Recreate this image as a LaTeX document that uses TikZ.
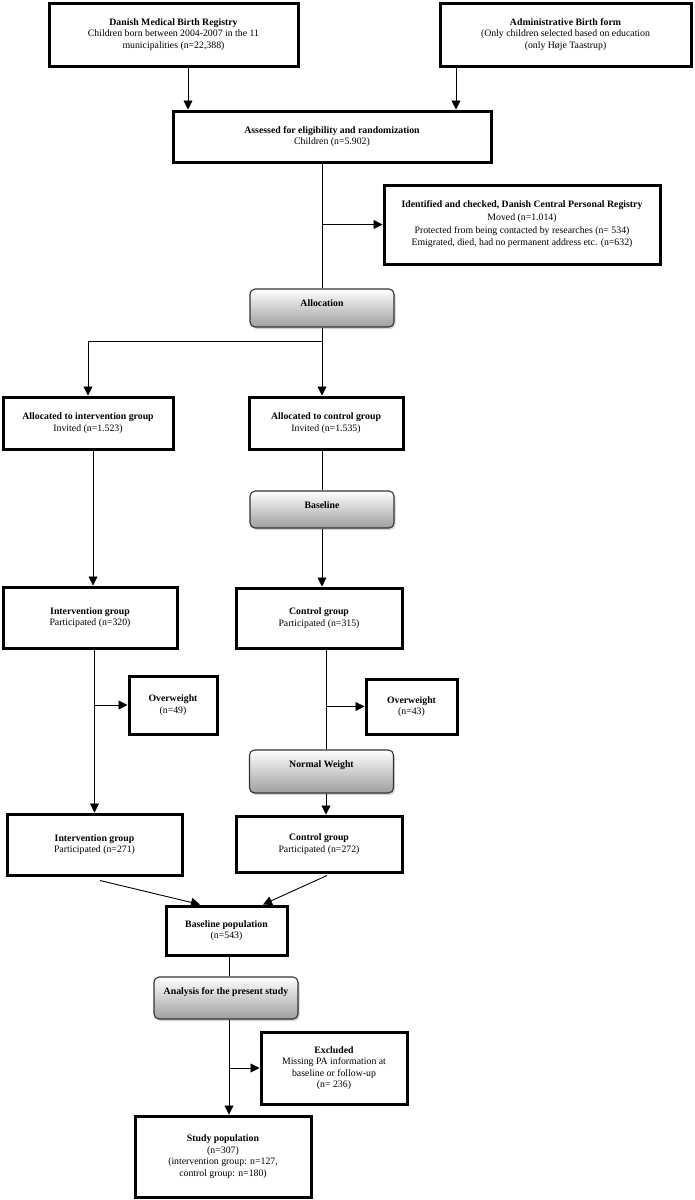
\documentclass[tikz,border=0pt]{standalone}
\usepackage{fontspec}
\setmainfont{Liberation Serif}
\usetikzlibrary{arrows.meta, shadows}

\begin{document}
\begin{tikzpicture}[x=1pt, y=-1pt, every node/.style={font=\fontsize{9.8}{11.5}\selectfont}]
\tikzset{
  box/.style={draw, line width=3pt, align=center, inner sep=2pt},
  phase/.style={draw=black!80, line width=1.1pt, rounded corners=5pt,
    top color=white, bottom color=black!38,
    drop shadow={shadow xshift=1.5pt, shadow yshift=-2pt, opacity=0.35},
    minimum width=144pt, inner ysep=0pt, text height=17pt,
    font=\fontsize{9.8}{11.5}\selectfont\bfseries},
  arr/.style={-{Triangle[length=9pt,width=9pt]}, line width=0.9pt},
  ln/.style={line width=0.9pt}
}
\useasboundingbox (0,0) rectangle (694,1200);
% sources and eligibility
\node[box, minimum width=249pt, minimum height=63pt] (reg) at (173.5,34.5)
  {\textbf{Danish Medical Birth Registry}\\Children born between 2004-2007 in the 11\\municipalities (n=22,388)};
\node[box, minimum width=251pt, minimum height=63pt] (adm) at (565.5,34.5)
  {\textbf{Administrative Birth form}\\(Only children selected based on education\\(only Høje Taastrup)};
\node[box, minimum width=318pt, minimum height=51pt] (assess) at (332,136.5)
  {\textbf{Assessed for eligibility and randomization}\\Children (n=5.902)};
\node[box, minimum width=276pt, minimum height=79pt, font=\fontsize{9.8}{12.6}\selectfont] (ident) at (522,224.5)
  {\textbf{Identified and checked, Danish Central Personal Registry}\\Moved (n=1.014)\\Protected from being contacted by researches (n= 534)\\Emigrated, died, had no permanent address etc. (n=632)};
\node[phase, text depth=21pt] (alloc) at (322,308) {Allocation};
\draw[arr] ([xshift=14.5pt]reg.south) -- ([xshift=14.5pt]reg.south |- assess.north);
\draw[arr] ([xshift=-109.5pt]adm.south) -- ([xshift=-109.5pt]adm.south |- assess.north);
\draw[ln] (alloc.north |- assess.south) -- (alloc.north);
\draw[arr] (alloc.north |- ident.west) -- (ident.west);
% allocation to the two arms
\node[box, minimum width=170pt, minimum height=52pt] (allocI) at (88,423)
  {\textbf{Allocated to intervention group}\\Invited (n=1.523)};
\node[box, minimum width=154pt, minimum height=52pt] (allocC) at (326,423)
  {\textbf{Allocated to control group}\\Invited (n=1.535)};
\coordinate (split) at (322,341);
\draw[ln] (alloc.south) -- (split);
\draw[arr] (split) -| (allocI.north);
\draw[arr] (split) -- (split |- allocC.north);
\node[phase, text depth=20pt] (base) at (322,509.5) {Baseline};
\node[box, minimum width=174pt, minimum height=61pt] (partI) at (90,617.5)
  {\textbf{Intervention group}\\Participated (n=320)};
\node[box, minimum width=166pt, minimum height=60pt] (partC) at (319,618)
  {\textbf{Control group}\\Participated (n=315)};
\draw[arr] ([xshift=3pt]partI.north |- allocI.south) -- ([xshift=3pt]partI.north);
\draw[ln] (base.north |- allocC.south) -- (base.north);
\draw[arr] (base.south) -- (base.south |- partC.north);
% overweight excluded
\node[box, minimum width=88pt, minimum height=58pt] (owI) at (173,705)
  {\textbf{Overweight}\\(n=49)};
\node[box, minimum width=91pt, minimum height=55pt] (owC) at (411.5,706.5)
  {\textbf{Overweight}\\(n=43)};
\node[phase, text depth=26pt] (normal) at (321.5,771.5) {Normal Weight};
\node[box, minimum width=175pt, minimum height=61pt] (finI) at (94.5,844.5)
  {\textbf{Intervention group}\\Participated (n=271)};
\node[box, minimum width=166pt, minimum height=56pt] (finC) at (319,844)
  {\textbf{Control group}\\Participated (n=272)};
\draw[arr] (finI.north |- partI.south) -- (finI.north);
\draw[arr] (finI.north |- owI.west) -- (owI.west);
\draw[ln] ([xshift=4.5pt]normal.north |- partC.south) -- ([xshift=4.5pt]normal.north);
\draw[arr] ([xshift=4.5pt]normal.north |- owC.west) -- (owC.west);
\draw[arr] ([xshift=4.5pt]normal.south) -- ([xshift=4.5pt]normal.south |- finC.north);
% pooled population and study sample
\node[box, minimum width=121pt, minimum height=49pt] (pop) at (226.5,930.5)
  {\textbf{Baseline population}\\(n=543)};
\node[phase, text depth=25pt] (analysis) at (226,998) {Analysis for the present study};
\node[box, minimum width=146pt, minimum height=72pt] (excl) at (334,1068)
  {\textbf{Excluded}\\Missing PA information at\\baseline or follow-up\\(n= 236)};
\node[box, minimum width=176pt, minimum height=81pt] (study) at (223,1156.5)
  {\textbf{Study population}\\(n=307)\\(intervention group: n=127,\\control group: n=180)};
\draw[arr] ([xshift=5.5pt,yshift=-4pt]finI.south) -- ([xshift=-26.5pt]pop.north);
\draw[arr] ([xshift=8pt,yshift=-2pt]finC.south) -- ([xshift=36.5pt]pop.north);
\draw[ln] ([xshift=2.5pt]pop.south) -- ([xshift=2.5pt]pop.south |- analysis.north);
\draw[arr] ([xshift=3pt]analysis.south) -- ([xshift=3pt]analysis.south |- study.north);
\draw[arr] ([xshift=3pt]analysis.south |- excl.west) -- (excl.west);
\end{tikzpicture}
\end{document}
